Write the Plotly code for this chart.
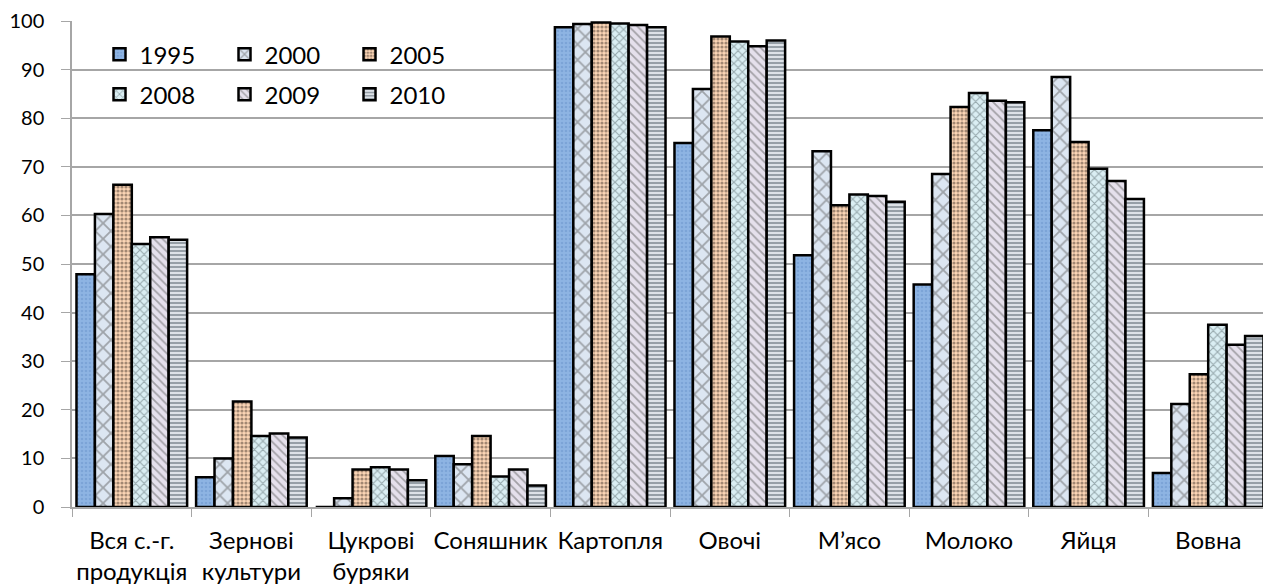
import plotly.graph_objects as go

categories = ["Вся с.-г.<br>продукція", "Зернові<br>культури", "Цукрові<br>буряки", "Соняшник",
              "Картопля", "Овочі", "М’ясо", "Молоко", "Яйця", "Вовна"]
years = ["1995", "2000", "2005", "2008", "2009", "2010"]
v1995 = [47.9, 6.1, 0, 10.5, 98.7, 74.9, 51.8, 45.8, 77.5, 7.0]
v2000 = [60.3, 10.0, 1.8, 8.8, 99.4, 86.0, 73.2, 68.5, 88.5, 21.2]
v2005 = [66.3, 21.7, 7.7, 14.6, 99.7, 96.8, 62.1, 82.3, 75.1, 27.3]
v2008 = [54.1, 14.6, 8.2, 6.3, 99.5, 95.8, 64.3, 85.2, 69.6, 37.5]
v2009 = [55.5, 15.1, 7.7, 7.7, 99.2, 94.8, 64.0, 83.6, 67.1, 33.4]
v2010 = [55.0, 14.3, 5.5, 4.4, 98.7, 96.0, 62.8, 83.3, 63.4, 35.2]
series = [v1995, v2000, v2005, v2008, v2009, v2010]

styles = [
    dict(bg="#8EB4E3", fg="#6A93CB", shape=".", size=4, sol=0.35),
    dict(bg="#DCE6F2", fg="#5F5F5F", shape="x", size=11, sol=0.3),
    dict(bg="#FBD5B5", fg="#4A3A30", shape=".", size=4, sol=0.5),
    dict(bg="#DAEEF3", fg="#56676A", shape="x", size=6, sol=0.35),
    dict(bg="#E5E0EC", fg="#606060", shape="\\", size=6, sol=0.3),
    dict(bg="#DDE2E8", fg="#4F5B66", shape="-", size=4, sol=0.5),
]

font = "Lato"
fig = go.Figure()
for i, (y, vals, st) in enumerate(zip(years, series, styles)):
    fig.add_trace(go.Bar(
        x=categories, y=vals, name=y,
        legend="legend" if i < 3 else "legend2",
        marker=dict(color=st["bg"], line=dict(color="black", width=2.5),
                    pattern=dict(shape=st["shape"], fgcolor=st["fg"], bgcolor=st["bg"],
                                 size=st["size"], solidity=st["sol"], fillmode="overlay")),
    ))

legend_common = dict(orientation="h", bgcolor="rgba(0,0,0,0)", entrywidth=80,
                     font=dict(family=font, size=24, color="#000"),
                     xanchor="left", yanchor="top", itemwidth=30, tracegroupgap=0)
fig.update_layout(
    width=1271, height=588,
    barmode="group", bargap=0.075, bargroupgap=0,
    plot_bgcolor="white", paper_bgcolor="white",
    margin=dict(l=64, r=11, t=13, b=89),
    font=dict(family=font, size=21, color="#000"),
    legend=dict(x=0.023, y=0.977, **legend_common),
    legend2=dict(x=0.023, y=0.895, **legend_common),
    showlegend=True,
)
fig.update_yaxes(range=[0, 100], dtick=10, showgrid=True, gridcolor="#A6A6A6", gridwidth=1.5,
                 showline=True, linecolor="#A6A6A6", linewidth=1.5, ticks="outside",
                 ticklen=9, tickcolor="#A6A6A6", tickfont=dict(size=20, family=font),
                 ticklabelstandoff=13, ticklabeloverflow="allow", zeroline=False, automargin=False)
fig.update_xaxes(showline=True, linecolor="#A6A6A6", linewidth=1.5, ticks="outside",
                 tickson="boundaries", ticklen=8, tickcolor="#A6A6A6", tickangle=0,
                 tickfont=dict(size=24, family=font), ticklabelstandoff=11,
                 ticklabeloverflow="allow", automargin=False)
fig.write_html("out.html")
